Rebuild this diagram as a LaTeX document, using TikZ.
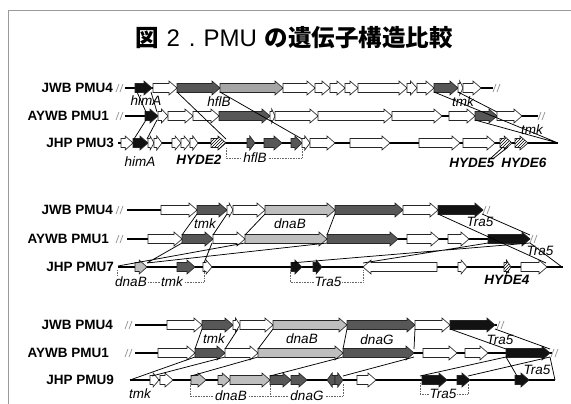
\documentclass[tikz,border=0pt]{standalone}
\usepackage{fontspec}
\setmainfont{Liberation Sans}
\newfontfamily\cjk{Noto Sans CJK JP}
\usetikzlibrary{patterns}
\definecolor{dg}{HTML}{575757}
\definecolor{mg}{HTML}{A6A6A6}
\definecolor{lg}{HTML}{BEBEBE}
\definecolor{bk}{HTML}{121212}
\definecolor{framec}{HTML}{9A9A9A}
\tikzset{
  gene/.style={draw=black!85, line width=0.65pt, line join=miter},
  hatch/.style={fill=white, postaction={pattern=north east lines}},
  bb/.style={line width=1.6pt},
  conn/.style={line width=0.75pt},
  brk/.style={densely dotted, line width=0.6pt, draw=black!60},
  glab/.style={font=\fontsize{13.5}{13.5}\selectfont\itshape, inner sep=1pt},
  blab/.style={font=\fontsize{13.5}{13.5}\selectfont\itshape, fill=white, inner sep=1pt},
  hlab/.style={font=\fontsize{13.5}{13.5}\selectfont\bfseries\itshape, inner sep=1pt},
  rlab/.style={font=\fontsize{13.5}{13.5}\selectfont\bfseries, anchor=east, inner sep=0pt},
}
\newcommand{\gr}[4][fill=white]{\pgfmathsetmacro{\ghl}{min(8,0.65*(#3-#2))}%
  \path[gene,#1] (#2,#4-4.5) -- ({#3-\ghl},#4-4.5) -- ({#3-\ghl},#4-7) -- (#3,#4) -- ({#3-\ghl},#4+7) -- ({#3-\ghl},#4+4.5) -- (#2,#4+4.5) -- cycle;}
\newcommand{\gl}[4][fill=white]{\pgfmathsetmacro{\ghl}{min(8,0.65*(#3-#2))}%
  \path[gene,#1] (#3,#4-4.5) -- ({#2+\ghl},#4-4.5) -- ({#2+\ghl},#4-7) -- (#2,#4) -- ({#2+\ghl},#4+7) -- ({#2+\ghl},#4+4.5) -- (#3,#4+4.5) -- cycle;}
\newcommand{\brkmark}[2]{\draw[framec, line width=0.8pt] (#1-2,#2+4) -- (#1+1,#2-4) (#1+2,#2+4) -- (#1+5,#2-4);}
\begin{document}
\begin{tikzpicture}[x=1pt,y=-1pt]
\useasboundingbox (0,0) rectangle (571,404);
\fill[white] (0,0) rectangle (571,404);
\draw[framec, line width=1pt] (8,404) -- (8,11) -- (571,11);
\node (title) at (294,38) {\cjk\bfseries\fontsize{23.5}{23.5}\selectfont 図\hspace{8pt}{\normalfont\fontsize{24}{24}\selectfont 2\hspace{9pt}.\hspace{8pt}PMU}\hspace{8pt}の遺伝子構造比較};

% ===== group 1 =====
\node[rlab] (r1a) at (113,88) {JWB PMU4};
\node[rlab] (r1b) at (109,116) {AYWB PMU1};
\node[rlab] (r1c) at (114,143) {JHP PMU3};
\draw[bb] (125,88) -- (493,88);
\draw[bb] (125,116) -- (538,116);
\draw[bb] (118,143) -- (558,143);
\brkmark{118}{88} \brkmark{495}{88}
\brkmark{118}{116} \brkmark{540}{116}
% JWB
\gr[fill=bk]{135}{152}{88}
\gr{153}{177}{88}
\gr[fill=dg]{177}{220}{88}
\gr[fill=mg]{220}{283}{88}
\gr{283}{315}{88}
\gr{315}{330}{88}
\gr{330}{345}{88}
\gr{345}{358}{88}
\gr{358}{407}{88}
\gr{407}{417}{88}
\gr{417}{434}{88}
\gr[fill=dg]{434}{458}{88}
\gr{458}{463}{88}
\gr{463}{481}{88}
% AYWB
\gr[fill=bk]{145}{158}{116}
\gr{158}{168}{116}
\gr{168}{193}{116}
\gr{193}{219}{116}
\gr[fill=dg]{219}{270}{116}
\gr{270}{275}{116}
\gr{275}{318}{116}
\gr{318}{392}{116}
\gr{392}{442}{116}
\gr{449}{475}{116}
\gr[fill=dg]{475}{497}{116}
\gr{497}{522}{116}
% JHP
\gr{121}{133}{143}
\gr[fill=bk]{133}{148}{143}
\gr{148}{154}{143}
\gr{154}{162}{143}
\gr{172}{181}{143}
\gr{181}{190}{143}
\gr{190}{198}{143}
\gr[hatch]{211}{226}{143}
\gr[fill=dg]{247}{255}{143}
\gr[fill=dg]{264}{282}{143}
\gr[fill=dg]{291}{302}{143}
\gr{302}{310}{143}
\gr{310}{335}{143}
\gr{350}{390}{143}
\gr{419}{460}{143}
\gr{463}{495}{143}
\gr[hatch]{500}{512}{143}
\gr[hatch]{515}{528}{143}
% connectors
\draw[conn] (137,92) -- (146,112) (151,92) -- (157,112);
\draw[conn] (146,120) -- (134,139) (157,120) -- (147,139);
\draw[conn] (177,92) -- (226,139) (220,92) -- (302,139);
\draw[conn] (434,92) -- (558,143) (458,92) -- (497,112) (475,120) -- (558,143);
\draw[conn] (491,158) -- (502,148) (494,158) -- (508,147);
\draw[brk] (226,148) -- (226,158) -- (302,158) -- (302,148);
% labels
\node[glab] (l1) at (146,101) {himA};
\node[glab] (l2) at (219,102) {hflB};
\node[glab] (l3) at (463,102) {tmk};
\node[glab] (l4) at (532,130) {tmk};
\node[glab] (l5) at (140,162) {himA};
\node[hlab] (l6) at (199,160) {HYDE2};
\node[blab] (l7) at (255,158) {hflB};
\node[hlab] (l8) at (472,163) {HYDE5};
\node[hlab] (l9) at (524,163) {HYDE6};

% ===== group 2 =====
\node[rlab] (r2a) at (113,210) {JWB PMU4};
\node[rlab] (r2b) at (109,239) {AYWB PMU1};
\node[rlab] (r2c) at (114,267) {JHP PMU7};
\draw[bb] (127,210) -- (483,210);
\draw[bb] (127,239) -- (530,239);
\draw[bb] (118,267) -- (563,267);
\brkmark{118}{210} \brkmark{485}{210}
\brkmark{118}{239} \brkmark{532}{239}
\gr{161}{197}{210}
\gr[fill=dg]{197}{227}{210}
\gr{227}{233}{210}
\gr{233}{265}{210}
\gr[fill=lg]{265}{335}{210}
\gr[fill=dg]{335}{403}{210}
\gr{403}{438}{210}
\gr[fill=bk]{438}{483}{210}
\gr{148}{182}{239}
\gr[fill=dg]{182}{213}{239}
\gr{213}{245}{239}
\gr[fill=lg]{245}{327}{239}
\gr[fill=dg]{327}{398}{239}
\gr{407}{439}{239}
\gr{448}{469}{239}
\gr[fill=bk]{488}{530}{239}
\gr[fill=lg]{135}{147}{267}
\gr[fill=dg]{177}{195}{267}
\gr{203}{212}{267}
\gr[fill=bk]{291}{302}{267}
\gr[fill=bk]{313}{322}{267}
\gl{363}{437}{267}
\gr{458}{467}{267}
\gr[hatch]{504}{511}{267}
\gr{521}{547}{267}
\draw[conn] (197,214) -- (182,235) (227,214) -- (213,235) (265,214) -- (245,235) (335,214) -- (327,235);
\draw[conn] (438,214) -- (546,263) (482,214) -- (530,235);
\draw[conn] (182,243) -- (147,263) (212,243) -- (204,263) (245,243) -- (118,266) (327,243) -- (147,263);
\draw[conn] (488,243) -- (363,263) (530,243) -- (291,263) (530,243) -- (562,267);
\draw[conn] (509,273) -- (508,271);
\draw[brk] (117,270) -- (117,282) -- (204,282) -- (204,270);
\draw[brk] (290,270) -- (290,282) -- (363,282) -- (363,270);
\node[glab] (m1) at (205,224) {tmk};
\node[glab] (m2) at (290,224) {dnaB};
\node[glab] (m3) at (480,222) {Tra5};
\node[glab] (m4) at (540,251) {Tra5};
\node[blab] (m5) at (131,282) {dnaB};
\node[blab] (m6) at (172,282) {tmk};
\node[blab] (m7) at (328,282) {Tra5};
\node[hlab] (m8) at (507,280) {HYDE4};

% ===== group 3 =====
\node[rlab] (r3a) at (113,325) {JWB PMU4};
\node[rlab] (r3b) at (109,353) {AYWB PMU1};
\node[rlab] (r3c) at (114,380) {JHP PMU9};
\draw[bb] (135,325) -- (497,325);
\draw[bb] (135,353) -- (552,353);
\draw[bb] (130,380) -- (555,380);
\brkmark{127}{325} \brkmark{499}{325}
\brkmark{127}{353} \brkmark{553}{353}
\gr{167}{202}{325}
\gr[fill=dg]{202}{233}{325}
\gr{233}{240}{325}
\gr{240}{273}{325}
\gr[fill=lg]{273}{347}{325}
\gr[fill=dg]{347}{415}{325}
\gr{415}{450}{325}
\gr[fill=bk]{450}{495}{325}
\gr{158}{195}{353}
\gr[fill=dg]{195}{225}{353}
\gr{225}{258}{353}
\gr[fill=lg]{258}{343}{353}
\gr[fill=dg]{343}{414}{353}
\gr{423}{457}{353}
\gr{465}{488}{353}
\gr[fill=bk]{506}{550}{353}
\gr{150}{159}{380}
\gr{160}{173}{380}
\gr[fill=lg]{191}{206}{380}
\gr[fill=lg]{218}{230}{380}
\gr[fill=lg]{230}{270}{380}
\gr[fill=dg]{270}{291}{380}
\gr[fill=dg]{291}{307}{380}
\gl[fill=dg]{327}{335}{380}
\gr[fill=dg]{335}{343}{380}
\gr{357}{376}{380}
\gr[fill=bk]{422}{447}{380}
\gr[fill=bk]{457}{470}{380}
\gr[fill=bk]{515}{529}{380}
\draw[conn] (202,329) -- (195,349) (238,329) -- (225,349) (273,329) -- (258,349) (347,329) -- (343,349) (415,329) -- (414,349);
\draw[conn] (450,329) -- (506,349) (495,329) -- (550,349);
\draw[conn] (195,357) -- (130,380) (225,357) -- (152,376) (258,357) -- (191,376) (343,357) -- (270,376) (414,357) -- (343,376);
\draw[conn] (506,357) -- (420,376) (550,357) -- (468,376) (506,357) -- (517,376) (550,357) -- (555,380);
\draw[brk] (190,383) -- (190,396) -- (343,396) -- (343,383) (270,383) -- (270,396);
\draw[brk] (420,383) -- (420,394) -- (468,394) -- (468,383);
\node[glab] (n1) at (214,339) {tmk};
\node[glab] (n2) at (302,339) {dnaB};
\node[glab] (n3) at (377,340) {dnaG};
\node[glab] (n4) at (500,340) {Tra5};
\node[glab] (n5) at (537,370) {Tra5};
\node[glab] (n6) at (140,394) {tmk};
\node[blab] (n7) at (231,396) {dnaB};
\node[blab] (n8) at (307,396) {dnaG};
\node[blab] (n9) at (443,394) {Tra5};
\end{tikzpicture}
\end{document}
